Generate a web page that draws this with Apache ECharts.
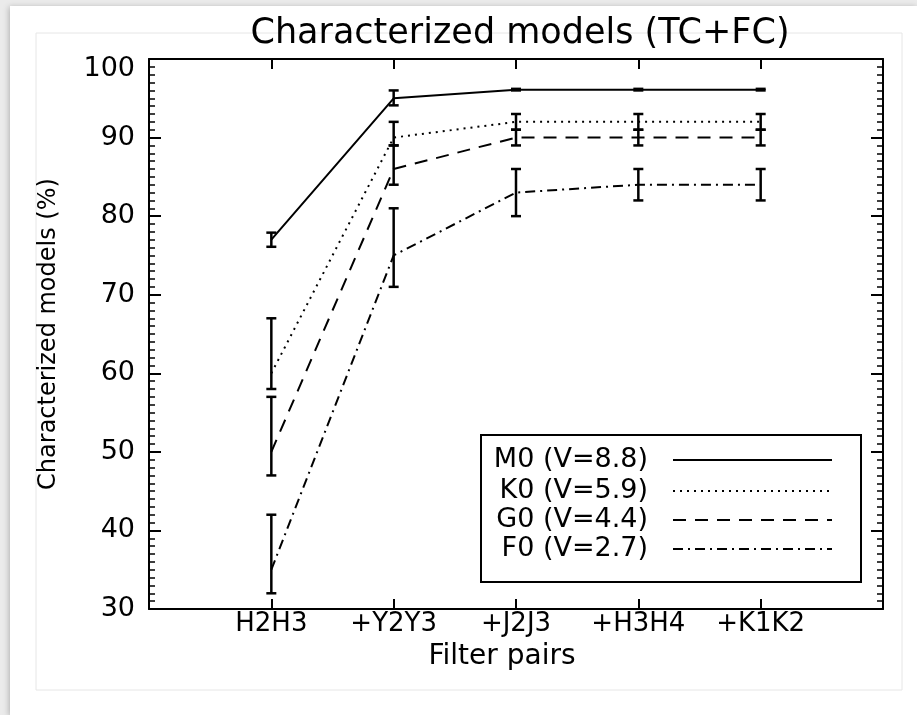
<!DOCTYPE html>
<html><head><meta charset="utf-8">
<script src="https://cdn.jsdelivr.net/npm/echarts@6/dist/echarts.min.js"></script>
<style>html,body{margin:0;padding:0;background:#ebebeb;} #c{width:917px;height:715px;}</style>
</head><body><div id="c"></div>
<script>
const categories = ['H2H3', '+Y2Y3', '+J2J3', '+H3H4', '+K1K2'];
const seriesNames = ['M0 (V=8.8)', 'K0 (V=5.9)', 'G0 (V=4.4)', 'F0 (V=2.7)'];
const m0 = [77, 95, 96.1, 96.1, 96.1];
const m0Low = [76.1, 94.1, 96.0, 96.0, 96.0];
const m0High = [77.9, 96.0, 96.2, 96.2, 96.2];
const k0 = [60, 90, 92, 92, 92];
const k0Low = [58, 89, 91, 91, 91];
const k0High = [67, 92, 93, 93, 93];
const g0 = [50, 86, 90, 90, 90];
const g0Low = [47, 84, 89, 89, 89];
const g0High = [57, 89, 91, 91, 91];
const f0 = [35, 75, 83, 84, 84];
const f0Low = [32, 71, 80, 82, 82];
const f0High = [42, 81, 86, 86, 86];
const yTickLabels = ['30', '40', '50', '60', '70', '80', '90', '100'];

const FONT = 'DejaVu Sans';
const axisCats = [''].concat(categories, ['']);
const dashes = ['solid', [2, 5], [13, 9], [10, 5, 2, 5]];
const values = [m0, k0, g0, f0];
const lows = [m0Low, k0Low, g0Low, f0Low];
const highs = [m0High, k0High, g0High, f0High];

const chart = echarts.init(document.getElementById('c'), null, {renderer: 'canvas'});

function errRender(params, api) {
  const x = api.value(0);
  const lo = api.coord([x, api.value(1)]);
  const hi = api.coord([x, api.value(2)]);
  const w = 5;
  const st = {stroke: '#000', lineWidth: 2.5};
  return {type: 'group', children: [
    {type: 'line', shape: {x1: lo[0], y1: lo[1], x2: hi[0], y2: hi[1]}, style: st},
    {type: 'line', shape: {x1: lo[0] - w, y1: lo[1], x2: lo[0] + w, y2: lo[1]}, style: st},
    {type: 'line', shape: {x1: hi[0] - w, y1: hi[1], x2: hi[0] + w, y2: hi[1]}, style: st}
  ]};
}

const series = [];
values.forEach((vals, s) => {
  series.push({
    name: seriesNames[s], type: 'line', xAxisIndex: 0, yAxisIndex: 0,
    data: vals.map((v, i) => [i + 1, v]), symbol: 'none', silent: true,
    lineStyle: {color: '#000', width: 2, type: dashes[s], cap: 'butt'}, z: 3
  });
  series.push({
    type: 'custom', renderItem: errRender, xAxisIndex: 0, yAxisIndex: 0,
    data: vals.map((v, i) => [i + 1, lows[s][i], highs[s][i]]),
    encode: {x: 0, y: [1, 2]}, silent: true, z: 4
  });
});

const catTick = (idx) => idx >= 1 && idx <= 5;
const xBase = {
  type: 'category', data: axisCats, boundaryGap: false,
  axisLine: {show: true, lineStyle: {color: '#000', width: 2}},
  axisTick: {show: true, inside: true, length: 10, interval: catTick, lineStyle: {color: '#000', width: 2}},
  splitLine: {show: false}
};
const yBase = {
  type: 'value', min: 30, max: 100, interval: 10,
  axisLine: {show: true, lineStyle: {color: '#000', width: 2}},
  axisTick: {show: true, inside: true, length: 12, lineStyle: {color: '#000', width: 2}},
  minorTick: {show: true, splitNumber: 10, length: 6, lineStyle: {color: '#000', width: 1.5}},
  splitLine: {show: false}
};

const legendRows = [460, 491, 520, 549];
const legendGraphics = [
  {type: 'rect', shape: {x: 481, y: 435, width: 380, height: 147},
   style: {fill: '#fff', stroke: '#000', lineWidth: 2}, z: 100}
];
seriesNames.forEach((n, s) => {
  legendGraphics.push({type: 'text', x: 648, y: legendRows[s], z: 101,
    style: {text: n, font: '27px ' + FONT, fill: '#000', align: 'right', verticalAlign: 'middle'}});
  legendGraphics.push({type: 'line', z: 101,
    shape: {x1: 673, y1: legendRows[s], x2: 832, y2: legendRows[s]},
    style: {stroke: '#000', lineWidth: 2, lineDash: dashes[s] === 'solid' ? null : dashes[s], lineCap: 'butt'}});
});

chart.setOption({
  animation: false,
  backgroundColor: 'transparent',
  textStyle: {fontFamily: FONT},
  title: {
    text: 'Characterized models (TC+FC)', left: 515, top: 11, textAlign: 'center',
    textStyle: {fontFamily: FONT, fontSize: 35, fontWeight: 'normal', color: '#000'}
  },
  grid: {left: 149, right: 34, top: 59, bottom: 106},
  xAxis: [
    Object.assign({}, xBase, {
      position: 'bottom',
      name: 'Filter pairs', nameLocation: 'middle', nameGap: 34,
      nameTextStyle: {fontFamily: FONT, fontSize: 28, color: '#000', padding: [0, 28, 0, 0]},
      axisLabel: {show: true, interval: catTick, margin: 2, fontFamily: FONT, fontSize: 26, color: '#000'}
    }),
    Object.assign({}, xBase, {position: 'top', axisLabel: {show: false}})
  ],
  yAxis: [
    Object.assign({}, yBase, {
      position: 'left',
      name: 'Characterized models (%)', nameLocation: 'middle', nameGap: 88,
      nameTextStyle: {fontFamily: FONT, fontSize: 24, color: '#000'},
      axisLabel: {
        show: true, margin: 14, color: '#000', fontFamily: FONT, fontSize: 27,
        formatter: (v) => {
          const idx = Math.round((v - 30) / 10);
          const t = yTickLabels[idx];
          return idx === 7 ? '{top|' + t + '}' : t;
        },
        rich: {top: {fontFamily: FONT, fontSize: 27, color: '#000', padding: [20, 0, 0, 0]}}
      }
    }),
    Object.assign({}, yBase, {position: 'right', axisLabel: {show: false}})
  ],
  graphic: [
    {type: 'rect', shape: {x: 10, y: 6, width: 907, height: 709}, z: -100,
     style: {fill: '#fff', shadowBlur: 6, shadowColor: 'rgba(0,0,0,0.25)', shadowOffsetX: -1, shadowOffsetY: 1}},
    {type: 'rect', shape: {x: 36, y: 33, width: 866, height: 657}, z: -99,
     style: {fill: 'none', stroke: '#e6e6e6', lineWidth: 1}}
  ].concat(legendGraphics),
  series: series
});
</script></body></html>
